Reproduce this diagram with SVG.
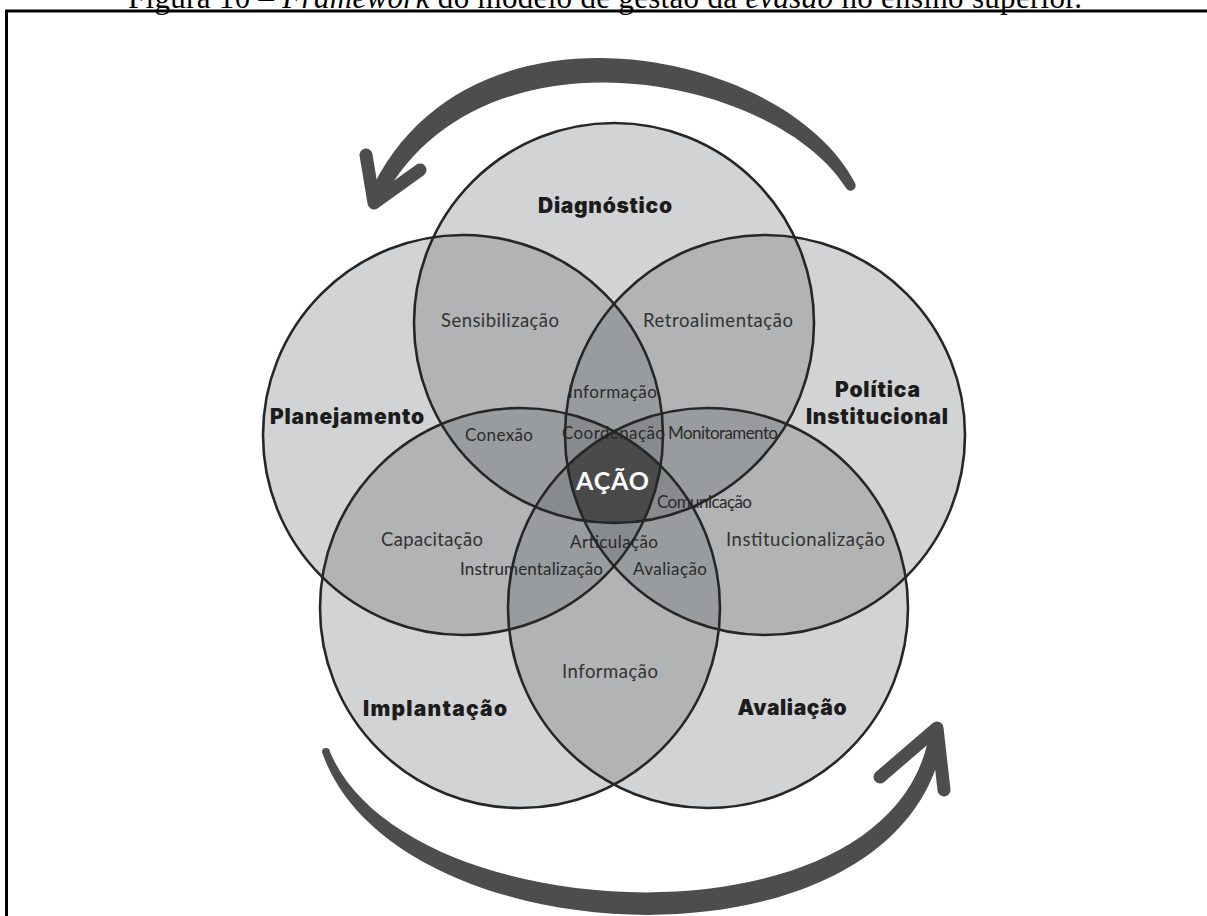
<svg xmlns="http://www.w3.org/2000/svg" width="1207" height="916" viewBox="0 0 1207 916">
<style>
.fillc{fill:#5f6266;fill-opacity:0.28;stroke:none}
.ring{fill:none;stroke:#262626;stroke-width:2.6}
.lbl{font-family:Inter,"DejaVu Sans",sans-serif;font-weight:900;font-size:21px;fill:#1c1c1c;text-anchor:middle}
.in{font-family:Lato,"Noto Sans",sans-serif;font-size:18.5px;fill:#333;text-anchor:middle}
.sm{font-family:Lato,"Noto Sans",sans-serif;font-size:17px;fill:#2a2a2a;text-anchor:middle}
.arrow{fill:#4d4d4d}
.head{fill:none;stroke:#4d4d4d;stroke-width:13;stroke-linecap:round;stroke-linejoin:round}
</style>
<defs>
<clipPath id="kT"><circle cx="614" cy="323" r="200"/></clipPath>
<clipPath id="kL"><circle cx="463" cy="435" r="200"/></clipPath>
<clipPath id="kR"><circle cx="765" cy="435" r="200"/></clipPath>
<clipPath id="kBL"><circle cx="520" cy="608" r="200"/></clipPath>
<clipPath id="kBR"><circle cx="708" cy="608" r="200"/></clipPath>
</defs>
<rect x="0" y="0" width="1207" height="916" fill="#ffffff"/>
<g id="title">
<text x="128" y="7.5" font-family="'Liberation Serif','Times New Roman',serif" font-size="31" fill="#000" textLength="954">Figura 10 – <tspan font-style="italic">Framework</tspan> do modelo de gestão da <tspan font-style="italic">evasão</tspan> no ensino superior.</text>
</g>
<g id="frame" stroke="#000" stroke-width="3" fill="none">
<path d="M6.5,916 V11 H1207"/>
</g>
<g id="diagnostico">
<circle class="fillc" cx="614" cy="323" r="200"/>
<text class="lbl" x="605" y="213" textLength="134">Diagnóstico</text>
</g>
<g id="planejamento">
<circle class="fillc" cx="463" cy="435" r="200"/>
<text class="lbl" x="347" y="424" textLength="154">Planejamento</text>
</g>
<g id="politica">
<circle class="fillc" cx="765" cy="435" r="200"/>
<text class="lbl" x="877.5" y="397" textLength="85">Política</text>
<text class="lbl" x="877" y="424" textLength="142">Institucional</text>
</g>
<g id="implantacao">
<circle class="fillc" cx="520" cy="608" r="200"/>
<text class="lbl" x="435" y="716" textLength="144">Implantação</text>
</g>
<g id="avaliacao">
<circle class="fillc" cx="708" cy="608" r="200"/>
<text class="lbl" x="792" y="715" textLength="109">Avaliação</text>
</g>
<g id="acao">
<g clip-path="url(#kT)"><g clip-path="url(#kL)"><g clip-path="url(#kR)"><g clip-path="url(#kBL)">
<rect clip-path="url(#kBR)" x="400" y="300" width="420" height="400" fill="#4a4a4a"/>
</g></g></g></g>
<text x="612.5" y="490" font-family="Lato,'Noto Sans',sans-serif" font-weight="bold" font-size="25" fill="#ffffff" text-anchor="middle" textLength="73">AÇÃO</text>
</g>
<g id="overlap-labels">
<text class="in" x="500" y="327" textLength="118">Sensibilização</text>
<text class="in" x="718" y="327" textLength="150">Retroalimentação</text>
<text class="sm" x="612.5" y="398" textLength="89">Informação</text>
<text class="sm" x="613.5" y="439" textLength="103">Coordenação</text>
<text class="sm" x="723" y="439" textLength="110">Monitoramento</text>
<text class="sm" x="499" y="441" textLength="68">Conexão</text>
<text class="sm" x="704.5" y="508" textLength="95">Comunicação</text>
<text class="sm" x="614" y="548" textLength="88">Articulação</text>
<text class="sm" x="531.5" y="575" textLength="143">Instrumentalização</text>
<text class="sm" x="670" y="575" textLength="74">Avaliação</text>
<text class="in" x="432" y="546" textLength="102">Capacitação</text>
<text class="in" x="805.5" y="546" textLength="159">Institucionalização</text>
<text class="in" x="610" y="678" textLength="96">Informação</text>
</g>
<g id="outlines">
<circle class="ring" cx="614" cy="323" r="200"/>
<circle class="ring" cx="463" cy="435" r="200"/>
<circle class="ring" cx="765" cy="435" r="200"/>
<circle class="ring" cx="520" cy="608" r="200"/>
<circle class="ring" cx="708" cy="608" r="200"/>
</g>
<g id="connectors">
<path class="arrow" d="M855,183 C786,48 462,-18 368,197 L382,201 C478,18 774,74 846,188 A5,5 0 0 0 855,183 Z"/>
<path class="head" d="M366,155 L374,203 L420,170"/>
<path class="arrow" d="M322,752 C394,962 908,982 944,735 L929,735 C892,952 406,932 330,752 A4,4 0 0 0 322,752 Z"/>
<path class="head" d="M880,777 L937,728 L944,790"/>
</g>
</svg>
